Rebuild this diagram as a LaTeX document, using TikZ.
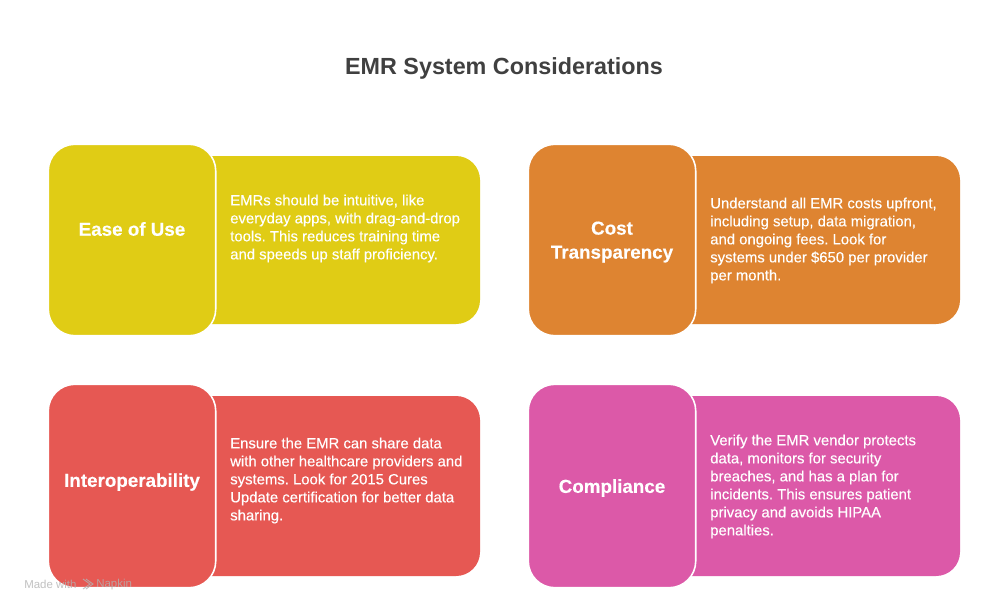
\documentclass[tikz,border=0pt]{standalone}
\usepackage{fontspec}
\setmainfont{Liberation Sans}
\definecolor{ttl}{HTML}{404040}
\definecolor{cyellow}{HTML}{E0CC15}
\definecolor{corange}{HTML}{DE8431}
\definecolor{cred}{HTML}{E65853}
\definecolor{cpink}{HTML}{DC59A8}
\tikzset{
  x=0.75pt,y=-0.75pt,
  headbox/.style={draw=white,line width=1.2pt,rounded corners=20pt,inner sep=0pt,minimum width=125.6pt,align=center},
  headtext/.style={text=white,align=center,font=\fontsize{14.1}{18}\selectfont\bfseries\addfontfeature{FakeBold=0.3}},
  bodytext/.style={anchor=west,align=left,inner sep=0pt,text=white,font=\fontsize{11.15}{13.5}\selectfont\addfontfeature{FakeBold=0.25}\frenchspacing},
  bodybox/.style={rounded corners=18pt},
  mark text/.style={anchor=west,inner sep=0pt,text=black!30,opacity=.8,font=\fontsize{8.6}{10}\selectfont}
}
\begin{document}
\begin{tikzpicture}
\useasboundingbox (0,0) rectangle (1008,612);
\fill[white] (0,0) rectangle (1008,612);
\node[text=ttl,font=\fontsize{17.5}{22}\selectfont\bfseries] (title) at (504,68.5) {EMR System Considerations};
% body panels
\fill[cyellow,bodybox] (180,156) -- (480,156) -- (480,324) -- (180,324) -- cycle;
\fill[corange,bodybox] (660,156) -- (960,156) -- (960,324) -- (660,324) -- cycle;
\fill[cred,bodybox] (180,396) -- (480,396) -- (480,576) -- (180,576) -- cycle;
\fill[cpink,bodybox] (660,396) -- (960,396) -- (960,576) -- (660,576) -- cycle;
% head boxes
\node[headbox,fill=cyellow,minimum height=143.6pt] (ease) at (132,240) {};
\node[headbox,fill=corange,minimum height=143.6pt] (cost) at (612,240) {};
\node[headbox,fill=cred,minimum height=152.6pt] (inter) at (132,486) {};
\node[headbox,fill=cpink,minimum height=152.6pt] (comp) at (612,486) {};
\node[headtext] (easet) at (132,229) {Ease of Use};
\node[headtext] (costt) at (612,242) {Cost\\Transparency};
\node[headtext] (intert) at (132,482) {Interoperability};
\node[headtext] (compt) at (612,488) {Compliance};
% body text
\node[bodytext] (easeb) at (230,228.5) {EMRs should be intuitive, like\\everyday apps, with drag-and-drop\\tools. This reduces training time\\and speeds up staff proficiency.};
\node[bodytext] (costb) at (710,240.5) {Understand all EMR costs upfront,\\including setup, data migration,\\and ongoing fees. Look for\\systems under \$650 per provider\\per month.};
\node[bodytext] (interb) at (230,480.5) {Ensure the EMR can share data\\with other healthcare providers and\\systems. Look for 2015 Cures\\Update certification for better data\\sharing.};
\node[bodytext] (compb) at (710,486.5) {Verify the EMR vendor protects\\data, monitors for security\\breaches, and has a plan for\\incidents. This ensures patient\\privacy and avoids HIPAA\\penalties.};
% watermark
\node[mark text] (made) at (24,584.5) {Made with};
\node[mark text] (napkin) at (96,584.5) {Napkin};
\draw[black!30,opacity=.8,line width=.7pt] (83,579) -- (90,584) -- (83,589) (86,579) -- (93,584) -- (86,589);
\end{tikzpicture}
\end{document}
